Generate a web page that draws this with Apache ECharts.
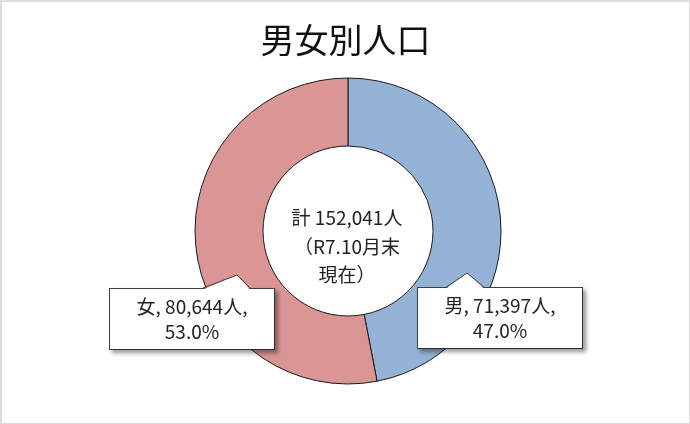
<!DOCTYPE html>
<html>
<head>
<meta charset="utf-8">
<script src="https://cdn.jsdelivr.net/npm/echarts@6/dist/echarts.min.js"></script>
<style>
  html, body { margin: 0; padding: 0; background: #fff; }
  #chart { width: 690px; height: 424px; box-sizing: border-box; border: 2px solid #dcdcdc; border-right-width: 1px; border-bottom-width: 1px; }
</style>
</head>
<body>
<div id="chart"></div>
<script>
// データ
var categories = ['男', '女'];
var values = [71397, 80644];
var colors = ['#95b3d7', '#d99694'];
var dateNote = ['（R7.10月末', '現在）'];

var total = values.reduce(function (a, b) { return a + b; }, 0);
var fmt = function (n) { return n.toLocaleString('en-US'); };

var myChart = echarts.init(document.getElementById('chart'));

var font = '"Noto Sans CJK JP", "Noto Sans", sans-serif';

var option = {
    backgroundColor: '#fff',
    title: {
        text: '男女別人口',
        left: 'center',
        top: 16,
        textStyle: {
            fontFamily: font,
            fontSize: 34,
            fontWeight: 'normal',
            color: '#111'
        }
    },
    graphic: [
        {
            type: 'text',
            x: 345,
            y: 202,
            z: 100,
            style: {
                text: '計 ' + fmt(total) + '人\n' + dateNote.join('\n'),
                font: '19px ' + font,
                fill: '#222',
                align: 'center',
                lineHeight: 28.5
            }
        },
        // 吹き出しの突起
        { type: 'polygon', z: 100, shape: { points: [[443, 287.5], [465, 271], [483, 287.5]] }, style: { fill: '#fff' } },
        { type: 'polyline', z: 101, shape: { points: [[443, 286], [465, 271], [483, 286]] }, style: { stroke: '#404040', lineWidth: 1, fill: null } },
        { type: 'polygon', z: 100, shape: { points: [[201, 287.5], [235, 273], [248, 287.5]] }, style: { fill: '#fff' } },
        { type: 'polyline', z: 101, shape: { points: [[201, 286], [235, 273], [248, 286]] }, style: { stroke: '#404040', lineWidth: 1, fill: null } }
    ],
    series: [
        {
            type: 'pie',
            center: [346, 229],
            radius: [85, 153],
            startAngle: 90,
            clockwise: true,
            silent: true,
            animation: false,
            itemStyle: {
                borderColor: '#1a1a1a',
                borderWidth: 1
            },
            labelLine: { show: false },
            label: {
                show: true,
                formatter: function (p) {
                    return p.name + ', ' + fmt(p.value) + '人,\n' + (p.value / total * 100).toFixed(1) + '%';
                },
                fontFamily: font,
                fontSize: 19,
                color: '#222',
                lineHeight: 25,
                align: 'center',
                width: 152,
                padding: [5, 6],
                backgroundColor: '#fff',
                borderColor: '#404040',
                borderWidth: 1,
                shadowColor: 'rgba(0,0,0,0.35)',
                shadowBlur: 4,
                shadowOffsetX: 3,
                shadowOffsetY: 3
            },
            labelLayout: function (p) {
                if (p.dataIndex === 0) {
                    return { x: 498, y: 316, align: 'center', verticalAlign: 'middle' };
                }
                return { x: 190, y: 317, align: 'center', verticalAlign: 'middle' };
            },
            data: categories.map(function (c, i) {
                return { name: c, value: values[i], itemStyle: { color: colors[i] } };
            })
        }
    ]
};

myChart.setOption(option);
</script>
</body>
</html>
